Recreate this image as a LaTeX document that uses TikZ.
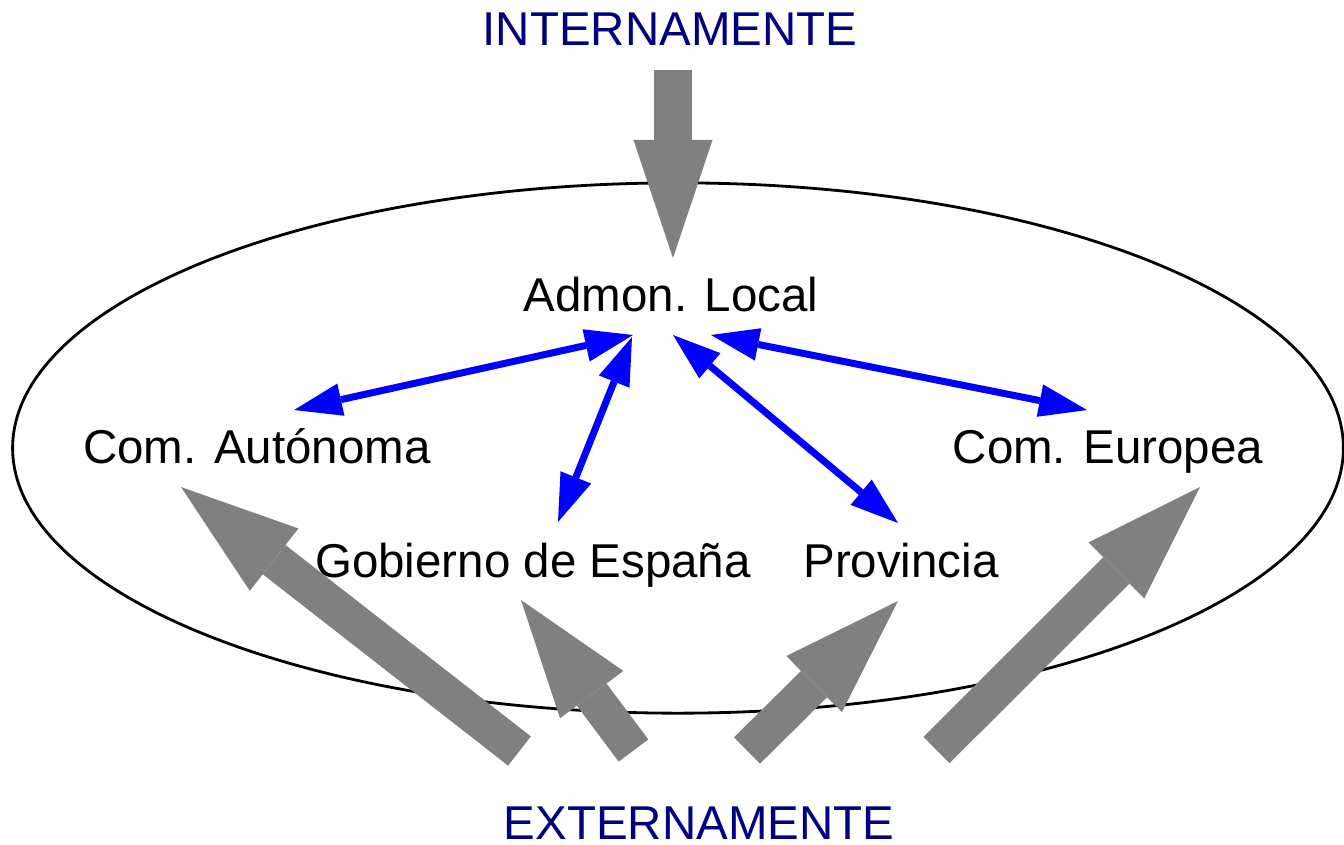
\documentclass[tikz,border=0pt]{standalone}
\usepackage{fontspec}
\setmainfont{Liberation Sans}
\usetikzlibrary{arrows.meta,calc,backgrounds}
\definecolor{navy}{HTML}{000080}
\definecolor{ablue}{HTML}{0000FF}
\definecolor{agray}{HTML}{808080}
\tikzset{
  lbl/.style={font=\fontsize{13.5}{16}\selectfont,anchor=base,
              inner sep=0pt,text=#1},
  lbl/.default=black,
  barr/.style={{Triangle[length=0.48cm,width=0.33cm,line width=0pt]}-{Triangle[length=0.48cm,width=0.33cm,line width=0pt]},
               line width=0.07cm,color=ablue},
  garr/.style={-{Triangle[length=1.18cm,width=0.79cm,line width=0pt]},
               line width=0.37cm,color=agray},
}

\begin{document}
\begin{tikzpicture}[x=0.01cm,y=-0.01cm]
  \useasboundingbox (0,0) rectangle (1344,844);

  \node[lbl=navy] (intern) at (670,45)  {INTERNAMENTE};
  \node[lbl=navy] (extern) at (699,839) {EXTERNAMENTE};

  \node[lbl] (admon)    at (671,311)  {Admon. Local};
  \node[lbl] (autonoma) at (257,463)  {Com. Aut\'onoma};
  \node[lbl] (europea)  at (1108,463) {Com. Europea};
  \node[lbl] (gobierno) at (533,577)  {Gobierno de Espa\~na};
  \node[lbl] (provincia) at (901,577) {Provincia};

  % relations inside
  \foreach \ax/\ay/\n/\bx/\by in {-38/24/autonoma/37/-53,
                                  -39/26/gobierno/25/-55,
                                  2/24/provincia/-3/-54,
                                  40/24/europea/-21/-53}
    \draw[barr] ($(admon.base)+(\ax,\ay)$) -- ($(\n.base)+(\bx,\by)$);

  \begin{scope}[on background layer]
    \draw[line width=0.8pt] (678,448) ellipse [x radius=6.65cm,y radius=2.65cm];
    \draw[garr] ($(intern.base)+(3,25)$) -- ($(admon.base)+(2,-53)$);
    \foreach \ax/\ay/\n/\bx/\by in {-179.5/-88/autonoma/-76/24,
                                    -65.5/-88.5/gobierno/-12/23,
                                    48/-88.5/provincia/-3/24,
                                    237.5/-89/europea/92/24}
      \draw[garr] ($(extern.base)+(\ax,\ay)$) -- ($(\n.base)+(\bx,\by)$);
  \end{scope}
\end{tikzpicture}
\end{document}
